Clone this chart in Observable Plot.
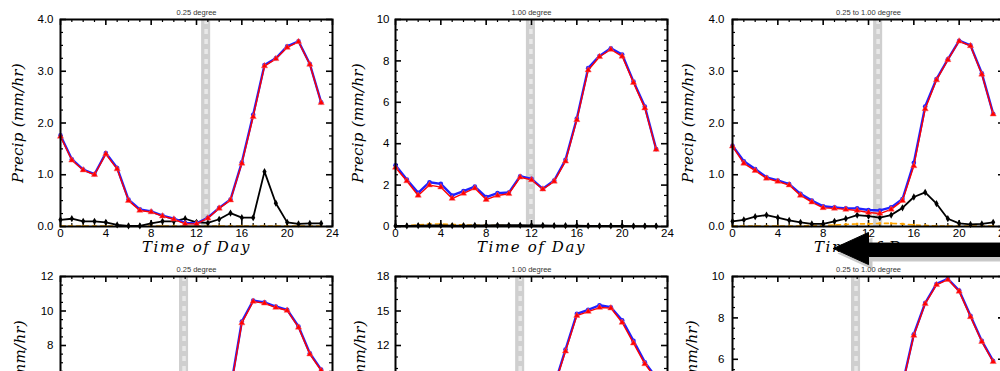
<!DOCTYPE html>
<html><head><meta charset="utf-8">
<script src="https://cdn.jsdelivr.net/npm/d3@7"></script>
<script src="https://cdn.jsdelivr.net/npm/@observablehq/plot@0.6"></script>
<style>
html,body{margin:0;padding:0;background:#fff;overflow:hidden;}
#wrap{position:relative;width:1000px;height:371px;overflow:hidden;background:#fff;}
#wrap svg{position:absolute;}
</style></head><body><div id="wrap"></div>
<script>
// ---------- categories & ticks ----------
const hours = [0,1,2,3,4,5,6,7,8,9,10,11,12,13,14,15,16,17,18,19,20,21,22,23];
const xMajorTicks = [0,4,8,12,16,20,24];
const xMinorTicks = [1,2,3,5,6,7,9,10,11,13,14,15,17,18,19,21,22,23];
const xTitle = "Time of Day";
const yTitle = "Precip (mm/hr)";
const subtitles = ["0.25 degree","1.00 degree","0.25 to 1.00 degree","0.25 degree","1.00 degree","0.25 to 1.00 degree"];

// ---------- series values (mm/hr) ----------
const blue1  = [1.76,1.30,1.10,1.01,1.42,1.13,0.52,0.33,0.29,0.21,0.15,0.07,0.06,0.17,0.36,0.52,1.24,2.16,3.12,3.25,3.48,3.58,3.14,2.40];
const red1   = [1.74,1.28,1.09,1.00,1.40,1.11,0.50,0.31,0.28,0.20,0.14,0.05,0.05,0.16,0.35,0.51,1.22,2.12,3.10,3.24,3.46,3.57,3.13,2.39];
const black1 = [0.13,0.15,0.10,0.10,0.08,0.03,0.01,0.01,0.06,0.10,0.10,0.15,0.08,0.07,0.14,0.26,0.17,0.17,1.06,0.45,0.08,0.05,0.06,0.06];
const orange1= [0.01,0.01,0.01,0.01,0.01,0.01,0.01,0.01,0.01,0.01,0.01,0.01,0.01,0.01,0.01,0.01,0.01,0.01,0.01,0.01,0.01,0.01,0.01,0.01];

const blue2  = [2.96,2.27,1.63,2.14,2.06,1.50,1.71,1.93,1.42,1.61,1.64,2.43,2.30,1.82,2.22,3.22,5.22,7.65,8.24,8.61,8.31,7.00,5.80,3.74];
const red2   = [2.85,2.20,1.50,2.00,1.90,1.35,1.60,1.85,1.30,1.50,1.58,2.38,2.25,1.80,2.18,3.15,5.15,7.55,8.20,8.55,8.22,6.95,5.72,3.72];
const black2 = [0.03,0.03,0.04,0.05,0.05,0.04,0.04,0.05,0.05,0.06,0.06,0.06,0.05,0.05,0.04,0.04,0.04,0.03,0.03,0.03,0.03,0.02,0.02,0.02];
const orange2= [0.02,0.04,0.08,0.12,0.12,0.10,0.08,0.06,0.05,0.04,0.04,0.03,0.03,0.02,0.02,0.01,0.01,0.01,0.01,0.01,0.01,0.01,0.01,0.01];

const blue3  = [1.56,1.26,1.11,0.95,0.89,0.82,0.63,0.50,0.39,0.37,0.35,0.35,0.32,0.31,0.37,0.53,1.23,2.32,2.85,3.23,3.59,3.50,2.96,2.18];
const red3   = [1.55,1.22,1.08,0.93,0.87,0.80,0.60,0.47,0.36,0.35,0.33,0.31,0.27,0.25,0.33,0.50,1.17,2.27,2.83,3.22,3.58,3.49,2.94,2.17];
const black3 = [0.10,0.13,0.19,0.22,0.17,0.12,0.08,0.05,0.05,0.10,0.15,0.22,0.20,0.17,0.22,0.36,0.57,0.66,0.44,0.15,0.06,0.04,0.05,0.08];
const orange3= [0.01,0.01,0.01,0.01,0.01,0.01,0.01,0.02,0.02,0.03,0.04,0.05,0.05,0.06,0.06,0.05,0.03,0.02,0.01,0.01,0.01,0.01,0.01,0.01];

const blue4  = [3.20,2.60,2.20,1.90,1.70,1.50,1.30,1.10,0.90,0.80,0.70,0.70,0.80,1.20,2.60,5.50,9.39,10.60,10.50,10.26,10.07,9.10,7.55,6.60];
const red4   = [3.10,2.50,2.10,1.85,1.65,1.45,1.25,1.05,0.85,0.75,0.65,0.65,0.75,1.15,2.50,5.40,9.30,10.55,10.45,10.20,10.03,9.05,7.50,6.55];
const black4 = [0.30,0.25,0.20,0.18,0.15,0.12,0.10,0.08,0.08,0.10,0.12,0.15,0.20,0.30,0.50,0.80,1.20,1.00,0.70,0.50,0.40,0.35,0.30,0.30];
const orange4= [0.02,0.02,0.02,0.02,0.02,0.02,0.02,0.02,0.02,0.02,0.02,0.02,0.02,0.02,0.02,0.02,0.02,0.02,0.02,0.02,0.02,0.02,0.02,0.02];

const blue5  = [6.50,5.60,4.90,4.30,3.90,3.50,3.20,3.00,2.80,2.70,2.80,3.20,4.00,5.80,8.50,11.65,14.75,15.10,15.50,15.33,14.20,12.40,10.55,9.20];
const red5   = [6.40,5.50,4.80,4.20,3.80,3.40,3.10,2.90,2.70,2.60,2.70,3.10,3.90,5.70,8.40,11.50,14.60,14.95,15.30,15.25,14.00,12.20,10.40,9.10];
const black5 = [0.10,0.10,0.08,0.08,0.06,0.06,0.05,0.05,0.05,0.06,0.06,0.08,0.10,0.12,0.15,0.18,0.20,0.18,0.15,0.12,0.10,0.10,0.10,0.10];
const orange5= [0.03,0.03,0.03,0.03,0.03,0.03,0.03,0.03,0.03,0.03,0.03,0.03,0.03,0.03,0.03,0.03,0.03,0.03,0.03,0.03,0.03,0.03,0.03,0.03];

const blue6  = [3.60,3.00,2.60,2.20,1.90,1.70,1.50,1.30,1.10,1.00,0.90,0.90,1.00,1.40,2.60,4.80,7.21,8.72,9.64,9.89,9.32,8.10,6.89,5.92];
const red6   = [3.55,2.95,2.55,2.15,1.85,1.65,1.45,1.25,1.05,0.95,0.85,0.85,0.95,1.35,2.55,4.75,7.15,8.68,9.60,9.85,9.28,8.05,6.85,5.88];
const black6 = [0.20,0.18,0.15,0.12,0.10,0.08,0.07,0.06,0.06,0.07,0.08,0.10,0.15,0.25,0.40,0.60,0.80,0.70,0.50,0.35,0.28,0.25,0.22,0.20];
const orange6= [0.02,0.02,0.02,0.02,0.02,0.02,0.02,0.02,0.02,0.02,0.02,0.02,0.02,0.02,0.02,0.02,0.02,0.02,0.02,0.02,0.02,0.02,0.02,0.02];

// y tick labels per panel
const yTicks1 = [0,1,2,3,4], yTicks2 = [0,2,4,6,8,10], yTicks3 = [0,1,2,3,4];
const yTicks4 = [0,2,4,6,8,10,12], yTicks5 = [0,3,6,9,12,15,18], yTicks6 = [0,2,4,6,8,10];

// shaded local-noon band (hours)
const bands = [[12.45,13.25],[11.55,12.35],[12.45,13.25],[10.5,11.3],[10.6,11.4],[10.5,11.3]];

// annotation arrow (panel 3 data units)
const arrowShape = [
  {x: 8.9, y:-0.425},{x:12.0, y:-0.115},{x:12.0, y:-0.32},{x:25, y:-0.32},
  {x:25, y:-0.58},{x:12.0, y:-0.58},{x:12.0, y:-0.735},{x: 8.9, y:-0.425}
];

const panels = [
  {left:0,   top:0,   sub:subtitles[0], yTicks:yTicks1, minorStep:0.25, fmt:d3.format(".1f"), band:bands[0], blue:blue1, red:red1, black:black1, orange:orange1, ylabDx:-42, tickDx:-7},
  {left:335, top:0,   sub:subtitles[1], yTicks:yTicks2, minorStep:0.5,  fmt:d3.format("d"),   band:bands[1], blue:blue2, red:red2, black:black2, orange:orange2, ylabDx:-37, tickDx:-6},
  {left:672, top:0,   sub:subtitles[2], yTicks:yTicks3, minorStep:0.25, fmt:d3.format(".1f"), band:bands[2], blue:blue3, red:red3, black:black3, orange:orange3, ylabDx:-44, tickDx:-8, arrow:true},
  {left:0,   top:257, sub:subtitles[3], yTicks:yTicks4, minorStep:0.5,  fmt:d3.format("d"),   band:bands[3], blue:blue4, red:red4, black:black4, orange:orange4, ylabDx:-40, tickDx:-7},
  {left:335, top:257, sub:subtitles[4], yTicks:yTicks5, minorStep:1,    fmt:d3.format("d"),   band:bands[4], blue:blue5, red:red5, black:black5, orange:orange5, ylabDx:-35, tickDx:-6},
  {left:672, top:257, sub:subtitles[5], yTicks:yTicks6, minorStep:0.5,  fmt:d3.format("d"),   band:bands[5], blue:blue6, red:red6, black:black6, orange:orange6, ylabDx:-40, tickDx:-8}
];

const W = 336, H = 270, mL = 60, mR = 4, mT = 19, mB = 44;
const fw = W - mL - mR, fh = H - mT - mB;
const wrap = document.getElementById("wrap");

function rows(arr){ return hours.map((h,i)=>({h, v: arr[i]})); }

function makePanel(p){
  const yMax = p.yTicks[p.yTicks.length-1];
  const yMinor = d3.range(0, yMax + 1e-9, p.minorStep).filter(v => !p.yTicks.includes(v));
  const marks = [
    Plot.rect([p.band], {x1: d=>d[0], x2: d=>d[1], y1: 0, y2: yMax, fill: "#cfcfcf"}),
    Plot.ruleX([p.band], {x: d=>(d[0]+d[1])/2, stroke: "#e8e8e8", strokeWidth: 3.5, strokeDasharray: "5,5"}),
    // inward ticks
    Plot.tickX(xMajorTicks, {x: d=>d, insetTop: fh-6, stroke: "#000", strokeWidth: 1.6}),
    Plot.tickX(xMajorTicks, {x: d=>d, insetBottom: fh-6, stroke: "#000", strokeWidth: 1.6}),
    Plot.tickX(xMinorTicks, {x: d=>d, insetTop: fh-3, stroke: "#000", strokeWidth: 1.2}),
    Plot.tickX(xMinorTicks, {x: d=>d, insetBottom: fh-3, stroke: "#000", strokeWidth: 1.2}),
    Plot.tickY(p.yTicks, {y: d=>d, insetRight: fw-6, stroke: "#000", strokeWidth: 1.6}),
    Plot.tickY(p.yTicks, {y: d=>d, insetLeft: fw-6, stroke: "#000", strokeWidth: 1.6}),
    Plot.tickY(yMinor, {y: d=>d, insetRight: fw-3, stroke: "#000", strokeWidth: 1.2}),
    Plot.tickY(yMinor, {y: d=>d, insetLeft: fw-3, stroke: "#000", strokeWidth: 1.2}),
    // series
    Plot.line(rows(p.orange), {x:"h", y:"v", stroke:"#ffa500", strokeWidth:1.6, strokeDasharray:"4,4"}),
    Plot.dot(rows(p.orange), {x:"h", y:"v", symbol:"square", r:1.3, fill:"#ffa500"}),
    Plot.line(rows(p.black), {x:"h", y:"v", stroke:"#000", strokeWidth:1.8}),
    Plot.dot(rows(p.black), {x:"h", y:"v", symbol:"diamond", r:2.2, fill:"#000"}),
    Plot.line(rows(p.blue), {x:"h", y:"v", stroke:"#2020ff", strokeWidth:2.4}),
    Plot.dot(rows(p.blue), {x:"h", y:"v", r:2.3, fill:"#2020ff"}),
    Plot.line(rows(p.red), {x:"h", y:"v", stroke:"#ff0000", strokeWidth:1.4}),
    Plot.dot(rows(p.red), {x:"h", y:"v", symbol:"triangle", r:2.3, fill:"#ff0000", stroke:"#ff6060", strokeWidth:0.5}),
    Plot.frame({stroke:"#000", strokeWidth:2}),
    // tick labels
    Plot.text(p.yTicks, {y: d=>d, frameAnchor:"left", dx: p.tickDx, textAnchor:"end", text: d=>p.fmt(d), fontSize: 11.5, fill:"#000"}),
    Plot.text(xMajorTicks, {x: d=>d, frameAnchor:"bottom", dy: 10, text: d=>String(d), fontSize: 11.5, fill:"#000"}),
    // titles
    Plot.text([p.sub], {frameAnchor:"top", dy:-10, text: d=>d, fontSize: 7.5, fill:"#333"}),
    Plot.text([yTitle], {y: () => yMax/2, frameAnchor:"left", textAnchor:"middle", dx: p.ylabDx, rotate:-90, text: d=>d, fontSize: 15, fontStyle:"italic", fontFamily:"DejaVu Serif", fill:"#000"}),
    Plot.text([xTitle], {frameAnchor:"bottom", textAnchor:"middle", dy: 25, text: d=>d, fontSize: 15, fontStyle:"italic", fontFamily:"DejaVu Serif", fill:"#000"})
  ];
  if (p.arrow) {
    marks.push(Plot.line(arrowShape, {x:"x", y:"y", fill:"#777", stroke:"none", fillOpacity:0.4, dx:4, dy:5}));
    marks.push(Plot.line(arrowShape, {x:"x", y:"y", fill:"#000", stroke:"#000", strokeWidth:1}));
  }
  const svg = Plot.plot({
    width: W, height: H,
    marginLeft: mL, marginRight: mR, marginTop: mT, marginBottom: mB,
    x: {domain: [0, 24], axis: null},
    y: {domain: [0, yMax], axis: null},
    style: {background: "transparent", fontFamily: "'Liberation Sans', Arial, sans-serif", overflow: "visible"},
    marks
  });
  d3.select(svg).selectAll("text").filter(function(){ return this.textContent === xTitle; }).attr("letter-spacing", "1.6px");
  d3.select(svg).selectAll("text").filter(function(){ return this.textContent === yTitle; }).attr("letter-spacing", "0.3px");
  svg.style.left = p.left + "px";
  svg.style.top = p.top + "px";
  return svg;
}

// bottom row first, top row over it (arrow on top)
[3,4,5,0,1,2].forEach(i => wrap.appendChild(makePanel(panels[i])));
</script>
</body></html>
